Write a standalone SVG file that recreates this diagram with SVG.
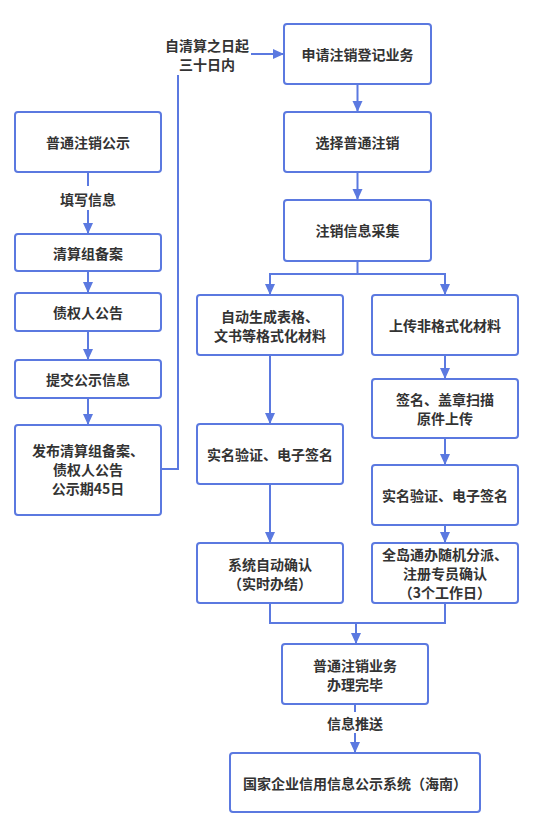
<svg xmlns="http://www.w3.org/2000/svg" width="536" height="821" viewBox="0 0 536 821">
<defs>
<marker id="arr" markerUnits="userSpaceOnUse" markerWidth="12" markerHeight="12" viewBox="0 0 12 12" refX="11" refY="6" orient="auto">
<path d="M0,1 L11,6 L0,11 Z" fill="#5b79e0"/>
</marker>
</defs>
<style>
.box{fill:#fff;stroke:#5b79e0;stroke-width:2}
.ln{fill:none;stroke:#5b79e0;stroke-width:2}
.a{marker-end:url(#arr)}
text{font-family:"Noto Sans CJK SC","Liberation Sans",sans-serif;font-size:14px;font-weight:bold;fill:#333;text-anchor:middle;dominant-baseline:central}
</style>
<rect width="536" height="821" fill="#fff"/>
<g id="connectors">
<path class="ln a" d="M357.5,84 V112"/>
<path class="ln a" d="M357.5,172 V200"/>
<path class="ln" d="M357.5,261 V274 M270,274 H445"/>
<path class="ln a" d="M270,273 V295"/>
<path class="ln a" d="M445,273 V295"/>
<path class="ln a" d="M270,355 V424"/>
<path class="ln a" d="M270,484 V543"/>
<path class="ln a" d="M445,355 V379"/>
<path class="ln a" d="M445,438 V465"/>
<path class="ln a" d="M445,525 V543"/>
<path class="ln" d="M270,603 V623 H445 V603"/>
<path class="ln a" d="M356,623 V644"/>
<path class="ln" d="M355,704 V712"/>
<path class="ln a" d="M355,733 V753"/>
<path class="ln" d="M88,172 V186"/>
<path class="ln a" d="M88,210 V234"/>
<path class="ln a" d="M88,271 V293"/>
<path class="ln a" d="M88,331 V360"/>
<path class="ln a" d="M88,398 V425"/>
<path class="ln" d="M161,469 H178 V75"/>
<path class="ln a" d="M251,54 H284"/>
<text x="88" y="199">填写信息</text>
<text x="207" y="45">自清算之日起</text>
<text x="207" y="64">三十日内</text>
<text x="355" y="723">信息推送</text>
</g>
<g id="n1"><rect class="box" x="284" y="24" width="147" height="60" rx="3"/><text x="357.5" y="54">申请注销登记业务</text></g>
<g id="n2"><rect class="box" x="284" y="112" width="147" height="60" rx="3"/><text x="357.5" y="142">选择普通注销</text></g>
<g id="n3"><rect class="box" x="284" y="200" width="147" height="61" rx="3"/><text x="357.5" y="230">注销信息采集</text></g>
<g id="n4"><rect class="box" x="197" y="295" width="146" height="60" rx="3"/><text x="270" y="316">自动生成表格、</text><text x="270" y="335">文书等格式化材料</text></g>
<g id="n5"><rect class="box" x="372" y="295" width="146" height="60" rx="3"/><text x="445" y="325">上传非格式化材料</text></g>
<g id="n6"><rect class="box" x="372" y="379" width="146" height="59" rx="3"/><text x="445" y="399">签名、盖章扫描</text><text x="445" y="418">原件上传</text></g>
<g id="n7"><rect class="box" x="197" y="424" width="146" height="60" rx="3"/><text x="270" y="454">实名验证、电子签名</text></g>
<g id="n8"><rect class="box" x="372" y="465" width="146" height="60" rx="3"/><text x="445" y="495">实名验证、电子签名</text></g>
<g id="n9"><rect class="box" x="197" y="543" width="146" height="60" rx="3"/><text x="270" y="564">系统自动确认</text><text x="270" y="583">（实时办结）</text></g>
<g id="n10"><rect class="box" x="372" y="543" width="146" height="60" rx="3"/><text x="445" y="554">全岛通办随机分派、</text><text x="445" y="573">注册专员确认</text><text x="445" y="592">（3个工作日）</text></g>
<g id="n11"><rect class="box" x="282" y="644" width="146" height="60" rx="3"/><text x="355" y="665">普通注销业务</text><text x="355" y="684">办理完毕</text></g>
<g id="n12"><rect class="box" x="230" y="753" width="250" height="59" rx="3"/><text x="355" y="783">国家企业信用信息公示系统（海南）</text></g>
<g id="l1"><rect class="box" x="15" y="112" width="146" height="60" rx="3"/><text x="88" y="142">普通注销公示</text></g>
<g id="l2"><rect class="box" x="15" y="234" width="146" height="37" rx="3"/><text x="88" y="252.5">清算组备案</text></g>
<g id="l3"><rect class="box" x="15" y="293" width="146" height="38" rx="3"/><text x="88" y="312">债权人公告</text></g>
<g id="l4"><rect class="box" x="15" y="360" width="146" height="38" rx="3"/><text x="88" y="379">提交公示信息</text></g>
<g id="l5"><rect class="box" x="15" y="425" width="146" height="90" rx="3"/><text x="88" y="450">发布清算组备案、</text><text x="88" y="469">债权人公告</text><text x="88" y="488">公示期45日</text></g>
</svg>
